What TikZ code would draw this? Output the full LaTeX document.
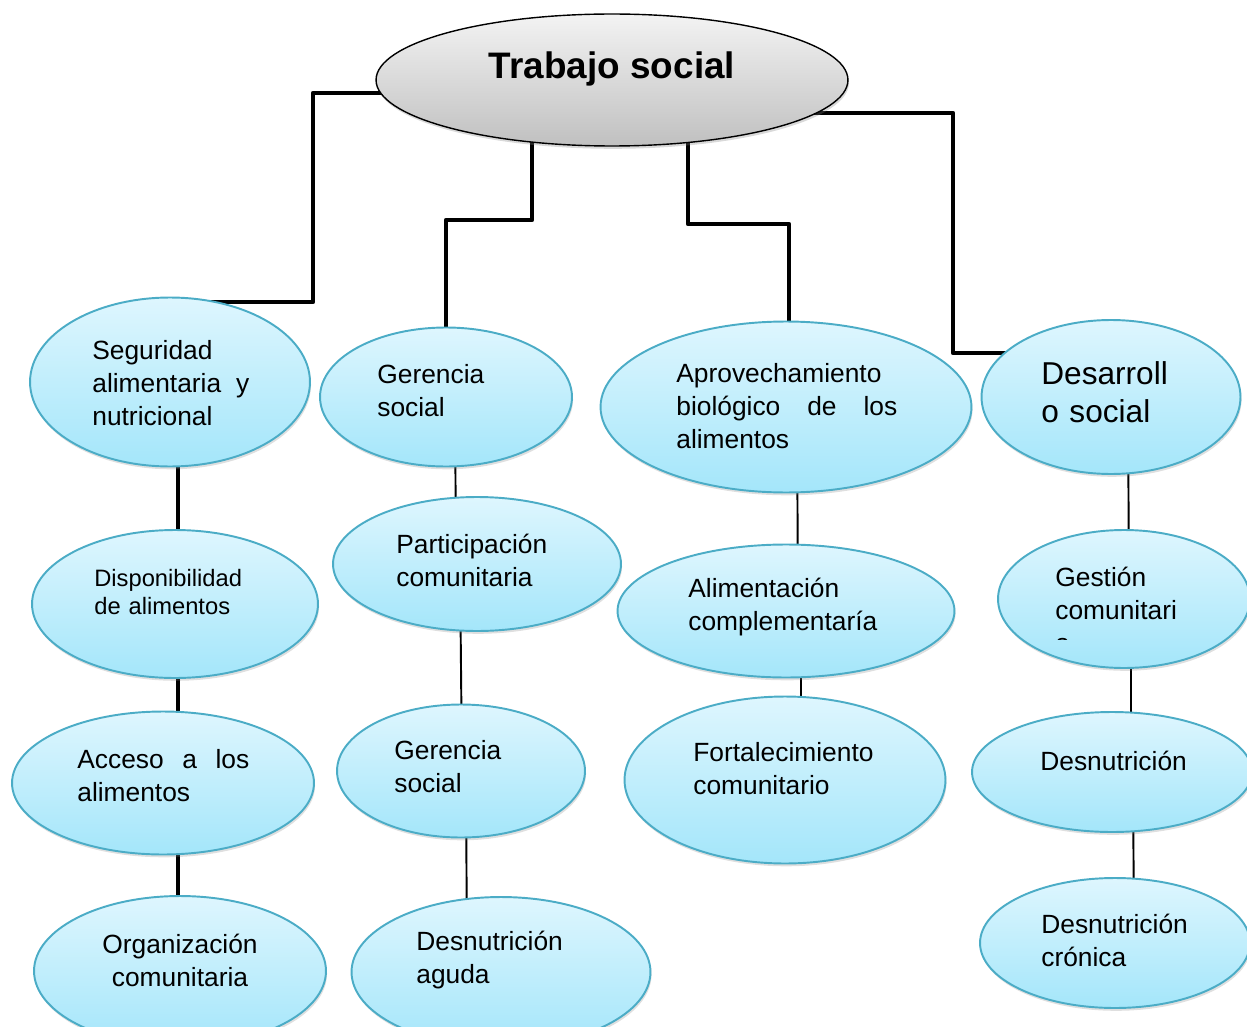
\documentclass[tikz,border=0pt]{standalone}
\usepackage{fontspec}
\setmainfont{Liberation Sans}
\usetikzlibrary{shapes.geometric,shadows,backgrounds}

\definecolor{celesteA}{RGB}{222,246,254}
\definecolor{celesteB}{RGB}{164,230,250}
\definecolor{borde}{RGB}{75,172,198}
\definecolor{grisA}{RGB}{243,243,243}
\definecolor{grisB}{RGB}{192,192,192}

\tikzset{
hoja/.style={
  ellipse,
  draw=borde,
  line width=1.1pt,
  top color=celesteA,
  bottom color=celesteB,
  drop shadow={shadow xshift=0.6pt,shadow yshift=-1.6pt,opacity=0.25}
  },
raiz/.style={
  ellipse,
  draw=black,
  line width=0.8pt,
  top color=grisA,
  bottom color=grisB,
  drop shadow={shadow xshift=0.6pt,shadow yshift=-1.6pt,opacity=0.3}
  },
texto/.style={
  inner sep=0pt,
  align=left,
  anchor=west,
  font=\fontsize{15}{18.7}\selectfont
  },
grueso/.style={line width=2.7pt,line join=round},
fino/.style={line width=1.1pt}
}

\begin{document}
\begin{tikzpicture}[x=0.02cm,y=-0.02cm]
\useasboundingbox (0,0) rectangle (1247,1027);
\clip (0,0) rectangle (1247,1027);

% raiz
\node[raiz,minimum width=9.44cm,minimum height=2.64cm] (raiz) at (612,80) {};
\node[inner sep=0pt,font=\bfseries\fontsize{21}{25}\selectfont] (raiz-t) at (612,69) {Trabajo social};

% columna 1
\node[hoja,minimum width=5.6cm,minimum height=3.38cm] (seg) at (170,382) {};
\node[hoja,minimum width=5.72cm,minimum height=2.96cm] (disp) at (175,604) {};
\node[hoja,minimum width=6.04cm,minimum height=2.86cm] (acc) at (163,783) {};
\node[hoja,minimum width=5.84cm,minimum height=3cm] (org) at (180,971) {};

\node[texto,text width=3.14cm] (seg-t) at (92,383)
  {Seguridad\\alimentaria\hfill y\\nutricional};
\node[texto,text width=3cm,font=\fontsize{13.5}{16.4}\selectfont] (disp-t) at (94,592)
  {Disponibilidad\\de alimentos};
\node[texto,text width=3.44cm] (acc-t) at (77,776)
  {Acceso\hfill a\hfill los\\alimentos};
\node[texto,align=center,anchor=center] (org-t) at (180,960)
  {Organización\\comunitaria};

% columna 2
\node[hoja,minimum width=5.04cm,minimum height=2.78cm] (ger1) at (446,397) {};
\node[hoja,minimum width=5.76cm,minimum height=2.68cm] (part) at (477,564) {};
\node[hoja,minimum width=4.96cm,minimum height=2.66cm] (ger2) at (461,771) {};
\node[hoja,minimum width=5.98cm,minimum height=3cm] (desn) at (501,972) {};

\node[texto,text width=2.2cm] (ger1-t) at (377,391) {Gerencia\\social};
\node[texto,text width=3.08cm] (part-t) at (396,560) {Participación\\comunitaria};
\node[texto,text width=2.2cm] (ger2-t) at (394,767) {Gerencia\\social};
\node[texto,text width=3cm] (desn-t) at (416,960) {Desnutrición\\aguda};

% columna 3
\node[hoja,minimum width=7.42cm,minimum height=3.42cm] (aprov) at (786,407) {};
\node[hoja,minimum width=6.74cm,minimum height=2.66cm] (alim) at (786,611) {};
\node[hoja,minimum width=6.42cm,minimum height=3.34cm] (fort) at (785,780) {};

\node[texto,text width=4.42cm] (aprov-t) at (676,406)
  {Aprovechamiento\\biológico\hfill de\hfill los\\alimentos};
\node[texto,text width=3.84cm] (alim-t) at (688,607) {Alimentación\\complementaría};
\node[texto,text width=3.8cm] (fort-t) at (693,769) {Fortalecimiento\\comunitario};

% columna 4
\node[hoja,minimum width=5.18cm,minimum height=3.08cm] (desa) at (1111,397) {};
\node[hoja,minimum width=5.04cm,minimum height=2.76cm] (gest) at (1124,599) {};
\node[hoja,minimum width=5.6cm,minimum height=2.4cm] (desn2) at (1112,772) {};
\node[hoja,minimum width=5.4cm,minimum height=2.6cm] (desc) at (1115,943) {};

\node[texto,text width=2.6cm,font=\fontsize{18}{21.6}\selectfont] (desa-t) at (1041,392)
  {Desarroll\\o social};
\begin{scope}
\clip (990,540) rectangle (1247,639);
\node[texto,text width=2.5cm] (gest-t) at (1055,610) {Gestión\\comunitari\\a};
\end{scope}
\node[texto] (desn2-t) at (1040,761) {Desnutrición};
\node[texto,text width=3cm] (desc-t) at (1041,940) {Desnutrición\\crónica};

\begin{scope}[on background layer]
\draw[grueso] (seg.center |- 0,302) -| (313,93) -- (raiz.center |- 0,93);
\draw[grueso] (raiz.center -| 532,0) |- (446,220) -- (ger1.center);
\draw[grueso] (raiz.center -| 688,0) |- (789,224) -- (aprov.center -| 789,0);
\draw[grueso] (raiz.center |- 0,113) -| (953,353) -- (desa.center |- 0,353);

% k = 1
\draw[grueso] (seg.center -| 178,0) -- (disp.center -| 178,0)
  -- (acc.center -| 178,0) -- (org.center -| 178,0);

% k = 2
\draw[fino] (ger1.center -| 455,0) -- (part.center -| 456,0);
\draw[fino] (part.center -| 460,0) -- (ger2.center -| 462,0);
\draw[fino] (ger2.center -| 466,0) -- (desn.center -| 467,0);

% k = 3
\draw[fino] (aprov.center -| 797,0) -- (alim.center -| 798,0);
\draw[fino] (alim.center -| 801,0) -- (fort.center -| 801,0);

% k = 4
\draw[fino] (desa.center -| 1128,0) -- (gest.center -| 1129,0);
\draw[fino] (gest.center -| 1131,0) -- (desn2.center -| 1131,0);
\draw[fino] (desn2.center -| 1133,0) -- (desc.center -| 1134,0);
\end{scope}

\end{tikzpicture}
\end{document}
